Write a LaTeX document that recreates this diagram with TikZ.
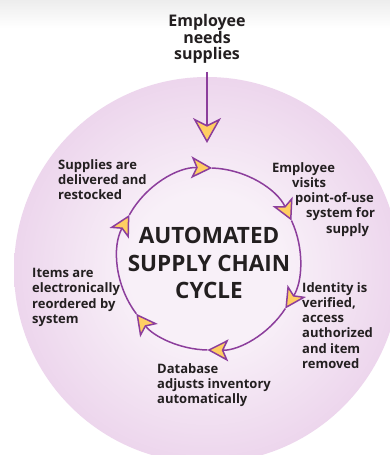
\documentclass[tikz,border=0pt]{standalone}
\usepackage{fontspec}
\setmainfont{Open Sans}
\usepackage{xcolor}
\usepackage{tikz}
\usetikzlibrary{arrows.meta}

\definecolor{cyclepurple}{RGB}{140,62,156}
\definecolor{tipyellow}{RGB}{255,206,98}
\definecolor{inktext}{RGB}{35,31,32}
\definecolor{discin}{RGB}{248,240,248}
\definecolor{discmid}{RGB}{236,212,236}
\definecolor{discedge}{RGB}{223,186,223}
\definecolor{discout}{RGB}{211,164,211}
\pgfdeclareradialshading{discglow}{\pgfpoint{0bp}{0bp}}{color(0bp)=(discin); color(10bp)=(discin); color(26bp)=(discmid); color(42bp)=(discedge); color(50bp)=(discout)}

\tikzset{
  steptext/.style={anchor=north west, align=left, inner sep=0pt, text=inktext,
    font=\bfseries\fontsize{13}{15.3}\selectfont},
  cyclearrow/.style={draw=cyclepurple, line width=1.5pt,
    -{Stealth[length=21pt, width=22pt, inset=5pt, fill=tipyellow]}},
  droparrow/.style={draw=cyclepurple, line width=2.2pt,
    -{Stealth[length=25pt, width=28pt, inset=7pt, fill=tipyellow, line width=1.5pt]}},
}

\begin{document}
\begin{tikzpicture}[x=1pt, y=-1pt]
\useasboundingbox (0,0) rectangle (390,455);
\clip (0,0) rectangle (390,455);
% Background
\fill[white] (0,0) rectangle (390,455);
\shade[top color=black!7, bottom color=white] (0,0) rectangle (390,28);

% Disc
\coordinate (disc) at (207,270);
\shade[shading=discglow] (disc) circle (193);

% Entry arrow
\node[align=center, inner sep=0pt, anchor=north, text=inktext,
  font=\bfseries\fontsize{16}{16.5}\selectfont] (need) at (207,14.5)
  {Employee\\needs\\supplies};
\coordinate (entry) at (207,143);
\draw[droparrow] (need.south) ++(0,8) -- (entry);

% Cycle
\coordinate (cyc) at (209,259);
\foreach \a/\b in {-151/-88, -88/-25, -25/33, 33/91, 91/143, 143/209}
  \draw[cyclearrow] (cyc) ++(\a:91) arc[start angle=\a, end angle=\b, radius=91];

% Title
\node[align=center, inner sep=0pt, anchor=north, text=inktext,
  font=\bfseries\fontsize{22.5}{27.5}\selectfont] (title) at (209,227)
  {AUTOMATED\\SUPPLY CHAIN\\CYCLE};

% Steps
\node[steptext] (visit) at (272,162)
  {Employee\\\hspace*{20pt}visits\\\hspace*{23pt}point-of-use\\\hspace*{34pt}system for\\\hspace*{54pt}supply};
\node[steptext] (verify) at (302,282)
  {Identity is\\verified,\\access\\authorized\\and item\\removed};
\node[steptext] (adjust) at (157,363)
  {Database\\adjusts inventory\\automatically};
\node[steptext] (reorder) at (32,268)
  {Items are\\electronically\\reordered by\\system};
\node[steptext] (restock) at (58,159)
  {Supplies are\\delivered and\\restocked};
\end{tikzpicture}
\end{document}
